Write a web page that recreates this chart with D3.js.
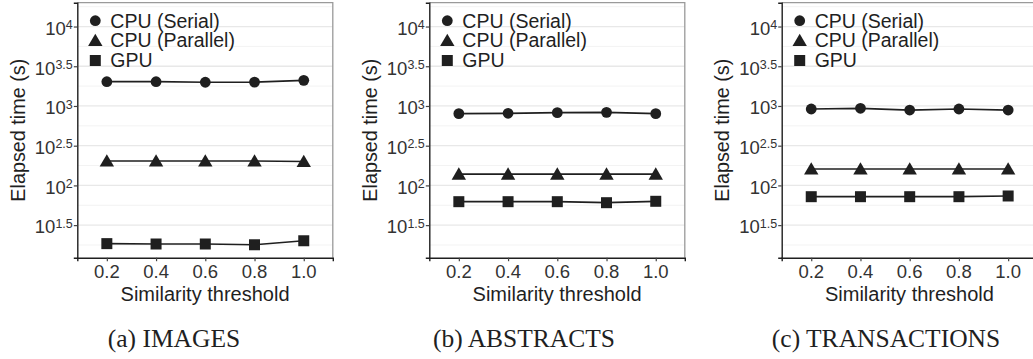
<!DOCTYPE html>
<html>
<head>
<meta charset="utf-8">
<script src="https://cdn.jsdelivr.net/npm/d3@7"></script>
<style>
  html, body { margin: 0; padding: 0; background: #fff; }
  svg { display: block; }
</style>
</head>
<body>
<svg id="chart" width="1033" height="359"></svg>
<script>
// ---- data ----
const thresholds = [0.2, 0.4, 0.6, 0.8, 1.0];
const xTickLabels = ["0.2", "0.4", "0.6", "0.8", "1.0"];
const seriesNames = ["CPU (Serial)", "CPU (Parallel)", "GPU"];
const datasetCaptions = ["(a) IMAGES", "(b) ABSTRACTS", "(c) TRANSACTIONS"];

const imagesSerial   = [2020, 2020, 1990, 2000, 2100];
const imagesParallel = [203, 203, 203, 203, 200];
const imagesGPU      = [18.5, 18.3, 18.3, 17.9, 20.1];

const abstractsSerial   = [800, 809, 823, 832, 800];
const abstractsParallel = [139, 139, 139, 139, 139];
const abstractsGPU      = [62.4, 62.4, 62.4, 60.6, 63.1];

const transSerial   = [916, 935, 889, 916, 889];
const transParallel = [161, 161, 161, 161, 161];
const transGPU      = [72.1, 72.1, 72.1, 72.1, 73.6];

const yMajorExps = [1.5, 2, 2.5, 3, 3.5, 4];
const yMajorLabels = ["1.5", "2", "2.5", "3", "3.5", "4"];
const yMinorExps = [1.25, 1.75, 2.25, 2.75, 3.25, 3.75, 4.25];

const panelsData = [
  [imagesSerial, imagesParallel, imagesGPU],
  [abstractsSerial, abstractsParallel, abstractsGPU],
  [transSerial, transParallel, transGPU]
];

// ---- layout ----
const panelLefts = [77.3, 429.3, 781.7];
const captionCenters = [174, 524, 886];
const pTop = 2.7, pBottom = 257.7, pWidth = 255.5;
const ink = "#1f1f1f";

const svg = d3.select("#chart");

const y = d3.scaleLog().domain([Math.pow(10, 1.09), Math.pow(10, 4.30)]).range([pBottom, pTop]);

function shapePath(kind) {
  if (kind === 0) return d3.symbol(d3.symbolCircle, Math.PI * 5.4 * 5.4)();
  if (kind === 2) return "M-5.5,-5.5H5.5V5.5H-5.5Z";
  return "M0,-6.8L7.2,5.6L-7.2,5.6Z";
}

panelsData.forEach((series, pi) => {
  const left = panelLefts[pi];
  const x = d3.scaleLinear().domain([0.08, 1.118]).range([left, left + pWidth]);
  const g = svg.append("g");

  // clip (panel c runs off the page)
  // minor grid
  g.selectAll(".minor").data(yMinorExps).enter().append("line")
    .attr("x1", left).attr("x2", left + pWidth)
    .attr("y1", d => y(Math.pow(10, d))).attr("y2", d => y(Math.pow(10, d)))
    .attr("stroke", "#f3f3f3").attr("stroke-width", 1);
  // major grid
  g.selectAll(".major").data(yMajorExps).enter().append("line")
    .attr("x1", left).attr("x2", left + pWidth)
    .attr("y1", d => y(Math.pow(10, d))).attr("y2", d => y(Math.pow(10, d)))
    .attr("stroke", "#e8e8e8").attr("stroke-width", 1.3);

  // panel border (grey) top & right
  g.append("path")
    .attr("d", `M${left},${pTop}H${left + pWidth}V${pBottom}`)
    .attr("fill", "none").attr("stroke", "#9a9a9a").attr("stroke-width", 1.3);

  // axes
  const yAxis = d3.axisLeft(y)
    .tickValues(yMajorExps.map(e => Math.pow(10, e)))
    .tickSize(3.5).tickFormat("");
  const yg = g.append("g").attr("transform", `translate(${left},0)`).call(yAxis);
  yg.select(".domain").attr("stroke", ink).attr("stroke-width", 1.4);
  yg.selectAll(".tick line").attr("stroke", "#444").attr("stroke-width", 1.2);

  const xAxis = d3.axisBottom(x).tickValues(thresholds).tickSize(3.5).tickFormat("");
  const xg = g.append("g").attr("transform", `translate(0,${pBottom})`).call(xAxis);
  xg.select(".domain").attr("stroke", ink).attr("stroke-width", 1.4);
  xg.selectAll(".tick line").attr("stroke", "#444").attr("stroke-width", 1.2);

  // y tick labels: 10^e
  yMajorExps.forEach((e, i) => {
    const t = g.append("text")
      .attr("x", left - 4.5)
      .attr("y", y(Math.pow(10, e)) + 8.3)
      .attr("text-anchor", "end")
      .attr("font-family", "'Liberation Sans', Arial, sans-serif")
      .attr("fill", "#333");
    t.append("tspan").attr("font-size", 18.5).text("10");
    t.append("tspan").attr("font-size", 12.5).attr("dy", -5.7).text(yMajorLabels[i]);
  });

  // x tick labels
  g.selectAll(".xl").data(thresholds).enter().append("text")
    .attr("x", d => x(d)).attr("y", 277.5)
    .attr("text-anchor", "middle")
    .attr("font-family", "'Liberation Sans', Arial, sans-serif")
    .attr("font-size", 18.5).attr("fill", "#333")
    .text((d, i) => xTickLabels[i]);

  // axis titles
  g.append("text")
    .attr("x", left + pWidth / 2).attr("y", 301)
    .attr("text-anchor", "middle")
    .attr("font-family", "'Liberation Sans', Arial, sans-serif")
    .attr("font-size", 20).attr("fill", ink)
    .text("Similarity threshold");
  g.append("text")
    .attr("transform", `translate(${left - 52.8},${(pTop + pBottom) / 2}) rotate(-90)`)
    .attr("text-anchor", "middle")
    .attr("font-family", "'Liberation Sans', Arial, sans-serif")
    .attr("font-size", 19.8).attr("fill", ink)
    .text("Elapsed time (s)");

  // lines and points
  const line = d3.line().x((d, i) => x(thresholds[i])).y(d => y(d));
  series.forEach((vals, si) => {
    g.append("path").datum(vals)
      .attr("d", line).attr("fill", "none")
      .attr("stroke", ink).attr("stroke-width", 1.7);
    g.selectAll(".pt" + si).data(vals).enter().append("path")
      .attr("transform", (d, i) => `translate(${x(thresholds[i])},${y(d)})`)
      .attr("d", shapePath(si)).attr("fill", ink);
  });

  // legend
  const legY = [20.7, 40.5, 60.5];
  seriesNames.forEach((name, si) => {
    g.append("path")
      .attr("transform", `translate(${left + 18},${legY[si]})`)
      .attr("d", shapePath(si)).attr("fill", ink);
    g.append("text")
      .attr("x", left + 33).attr("y", legY[si] + 6.8)
      .attr("font-family", "'Liberation Sans', Arial, sans-serif")
      .attr("font-size", 19.5).attr("fill", ink)
      .text(name);
  });

  // caption
  svg.append("text")
    .attr("x", captionCenters[pi]).attr("y", 347)
    .attr("text-anchor", "middle")
    .attr("font-family", "'Liberation Serif', 'Times New Roman', serif")
    .attr("font-size", 25.5).attr("fill", ink)
    .text(datasetCaptions[pi]);
});
</script>
</body>
</html>
